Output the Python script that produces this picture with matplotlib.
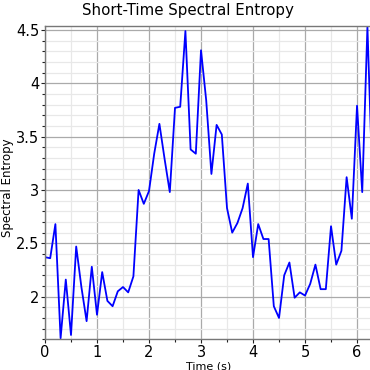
import numpy as np
import matplotlib
matplotlib.use("Agg")
import matplotlib.pyplot as plt
from matplotlib.ticker import MultipleLocator

# Frame times (s) and spectral entropy values
time_s = [0.0, 0.1, 0.2, 0.3, 0.4, 0.5, 0.6, 0.7, 0.8, 0.9,
          1.0, 1.1, 1.2, 1.3, 1.4, 1.5, 1.6, 1.7, 1.8, 1.9,
          2.0, 2.1, 2.2, 2.3, 2.4, 2.5, 2.6, 2.7, 2.8, 2.9,
          3.0, 3.1, 3.2, 3.3, 3.4, 3.5, 3.6, 3.7, 3.8, 3.9,
          4.0, 4.1, 4.2, 4.3, 4.4, 4.5, 4.6, 4.7, 4.8, 4.9,
          5.0, 5.1, 5.2, 5.3, 5.4, 5.5, 5.6, 5.7, 5.8, 5.9,
          6.0, 6.1, 6.2, 6.3]
entropy = [2.37, 2.36, 2.68, 1.61, 2.16, 1.64, 2.47, 2.09, 1.77, 2.28,
           1.83, 2.23, 1.96, 1.91, 2.05, 2.09, 2.04, 2.19, 3.00, 2.87,
           2.99, 3.34, 3.62, 3.29, 2.98, 3.77, 3.78, 4.49, 3.38, 3.34,
           4.31, 3.84, 3.15, 3.61, 3.52, 2.83, 2.60, 2.69, 2.83, 3.06,
           2.37, 2.68, 2.54, 2.54, 1.91, 1.80, 2.20, 2.32, 1.99, 2.04,
           2.01, 2.12, 2.30, 2.07, 2.07, 2.66, 2.30, 2.43, 3.12, 2.73,
           3.79, 2.98, 4.53, 3.02]

fig = plt.figure(figsize=(3.7, 3.7), dpi=100)
# axes runs past the right edge of the image, like the reference crop
ax = fig.add_axes([0.1216, 0.083, 0.8855, 0.8475])

ax.plot(time_s, entropy, color="#0000ff", linewidth=1.3)
ax.set_xlim(0, 6.3)
ax.set_ylim(1.60, 4.54)

ax.xaxis.set_major_locator(MultipleLocator(1))
ax.xaxis.set_minor_locator(MultipleLocator(0.5))
ax.yaxis.set_major_locator(MultipleLocator(0.5))
ax.yaxis.set_minor_locator(MultipleLocator(0.1))
ax.set_yticks([2, 2.5, 3, 3.5, 4, 4.5])
ax.set_yticklabels(["2", "2.5", "3", "3.5", "4", "4.5"])

ax.grid(which="major", color="#aaaaaa", linewidth=0.9)
ax.grid(which="minor", color="#e8e8e8", linewidth=0.9)
ax.set_axisbelow(True)

for side in ["left", "bottom", "top", "right"]:
    ax.spines[side].set_color("#777777")
    ax.spines[side].set_linewidth(1.0)

ax.tick_params(which="major", direction="out", length=3, width=0.8,
               labelsize=10.5, pad=1, color="#222222")
ax.tick_params(which="minor", direction="out", length=2, width=0.8,
               color="#222222")

ax.set_xlabel("Time (s)", fontsize=8, labelpad=1)
fig.text(0.019, 1 - 188 / 370, "Spectral Entropy", rotation=90,
         fontsize=8.5, ha="center", va="center")
fig.text(0.507, 1 - 10 / 370, "Short-Time Spectral Entropy",
         fontsize=10.8, ha="center", va="center")

fig.savefig("out.png", dpi=100)
